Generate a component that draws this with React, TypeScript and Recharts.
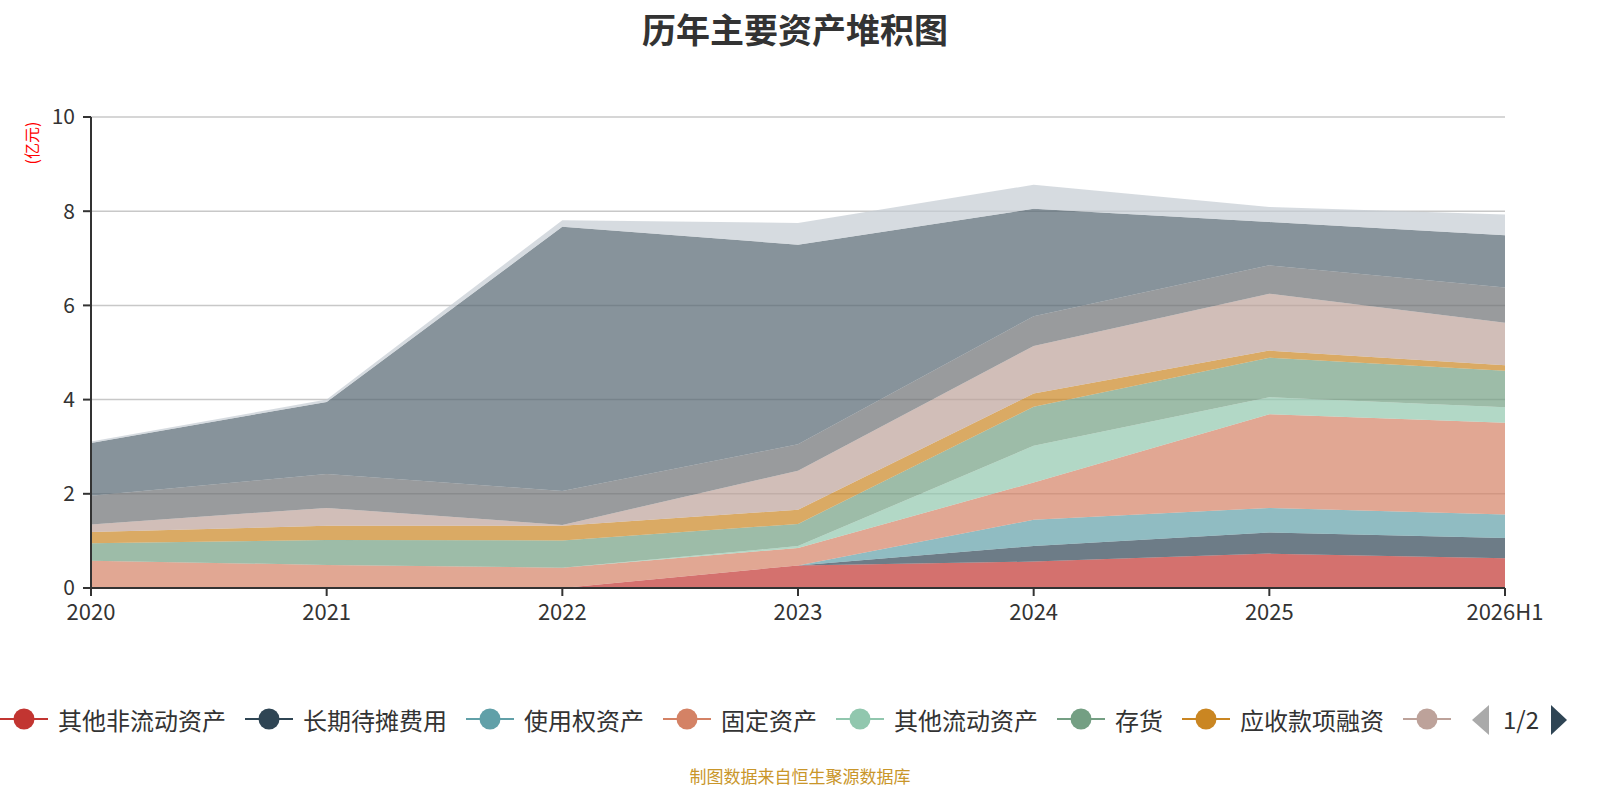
import React from "react";
import { Area, AreaChart, CartesianGrid, XAxis, YAxis } from "recharts";

// 年份
const years = ["2020", "2021", "2022", "2023", "2024", "2025", "2026H1"];

// 各项资产（亿元），自下而上堆叠
const otherNonCurrent = [0, 0, 0, 0.48, 0.56, 0.73, 0.63];
const longPrepaid = [0, 0, 0, 0, 0.33, 0.45, 0.43];
const rightOfUse = [0, 0, 0, 0, 0.56, 0.52, 0.5];
const fixedAssets = [0.58, 0.49, 0.43, 0.37, 0.79, 1.99, 1.95];
const otherCurrent = [0, 0, 0, 0.04, 0.78, 0.36, 0.33];
const inventory = [0.37, 0.53, 0.58, 0.47, 0.83, 0.84, 0.77];
const receivableFinancing = [0.24, 0.3, 0.31, 0.3, 0.28, 0.15, 0.12];
const receivables = [0.16, 0.38, 0.02, 0.83, 1.01, 1.21, 0.9];
const notesReceivable = [0.61, 0.72, 0.72, 0.56, 0.63, 0.6, 0.75];
const tradingAssets = [1.12, 1.53, 5.61, 4.24, 2.28, 0.92, 1.11];
const cash = [0.03, 0.05, 0.14, 0.46, 0.51, 0.32, 0.44];

const yTicks = [0, 2, 4, 6, 8, 10];

const series = [
  { key: "其他非流动资产", values: otherNonCurrent, color: "#c23531" },
  { key: "长期待摊费用", values: longPrepaid, color: "#2f4554" },
  { key: "使用权资产", values: rightOfUse, color: "#61a0a8" },
  { key: "固定资产", values: fixedAssets, color: "#d48265" },
  { key: "其他流动资产", values: otherCurrent, color: "#91c7ae" },
  { key: "存货", values: inventory, color: "#749f83" },
  { key: "应收款项融资", values: receivableFinancing, color: "#ca8622" },
  { key: "应收账款", values: receivables, color: "#bda29a" },
  { key: "应收票据", values: notesReceivable, color: "#6e7074" },
  { key: "交易性金融资产", values: tradingAssets, color: "#546570" },
  { key: "货币资金", values: cash, color: "#c4ccd3" },
];

const data = years.map((year, i) => {
  const row: Record<string, string | number> = { year };
  series.forEach((s) => {
    row[s.key] = s.values[i];
  });
  return row;
});

const FONT = '"Noto Sans CJK SC", "Noto Sans", sans-serif';
const xTickStyle = { fill: "#333", fontSize: 22, fontFamily: FONT };
const yTickStyle = { fill: "#333", fontSize: 21, fontFamily: FONT };

function LegendBar() {
  // 第一页：前 7 项完整显示，第 8 项只露出图标（文字被分页截掉）
  const visible = series.slice(0, 8);
  return (
    <div
      style={{
        position: "absolute",
        left: 0,
        top: 699,
        width: 1462,
        height: 40,
        overflow: "hidden",
        display: "flex",
        alignItems: "center",
        whiteSpace: "nowrap",
        fontFamily: FONT,
        fontSize: 24,
        color: "#333",
      }}
    >
      {visible.map((s, i) => (
        <div key={s.key} style={{ display: "flex", alignItems: "center", marginRight: 19, flexShrink: 0 }}>
          <svg width={48} height={28}>
            <line x1={0} x2={48} y1={14} y2={14} stroke={s.color} strokeWidth={2} />
            <circle cx={24} cy={14} r={10.5} fill={s.color} />
          </svg>
          {i < 7 && <span style={{ marginLeft: 10 }}>{s.key}</span>}
        </div>
      ))}
    </div>
  );
}

function Pager() {
  return (
    <svg style={{ position: "absolute", left: 1466, top: 702 }} width={110} height={36}>
      <polygon points="6,18 23,3 23,33" fill="#aaa" />
      <text x={55} y={27} textAnchor="middle" fontSize={24} fontFamily={FONT} fill="#333">
        1/2
      </text>
      <polygon points="101,18 85,3 85,33" fill="#2f4554" />
    </svg>
  );
}

export default function App() {
  return (
    <div style={{ position: "absolute", left: 0, top: 0, width: 1600, height: 800, background: "#fff" }}>
      <div
        style={{
          position: "absolute",
          left: 0,
          top: 4,
          width: 1590,
          textAlign: "center",
          fontFamily: FONT,
          fontSize: 34,
          fontWeight: "bold",
          color: "#333",
        }}
      >
        历年主要资产堆积图
      </div>
      <div
        style={{
          position: "absolute",
          left: 31,
          top: 143,
          transform: "translate(-50%, -50%) rotate(-90deg)",
          fontFamily: FONT,
          fontSize: 16,
          color: "#ff0000",
          whiteSpace: "nowrap",
        }}
      >
        (亿元)
      </div>

      <div style={{ position: "absolute", left: 0, top: 0 }}>
        <AreaChart width={1600} height={650} data={data} margin={{ top: 117, right: 95, left: 31, bottom: 32 }}>
          <CartesianGrid vertical={false} stroke="#c8c8c8" strokeWidth={1.5} />
          <XAxis
            dataKey="year"
            tick={xTickStyle}
            tickSize={8}
            tickMargin={8}
            height={30}
            interval={0}
            axisLine={{ stroke: "#333", strokeWidth: 2 }}
            tickLine={{ stroke: "#333", strokeWidth: 2 }}
          />
          <YAxis
            domain={[0, 10]}
            ticks={yTicks}
            width={60}
            tick={yTickStyle}
            tickSize={8}
            tickMargin={8}
            axisLine={{ stroke: "#333", strokeWidth: 2 }}
            tickLine={{ stroke: "#333", strokeWidth: 2 }}
          />
          {series.map((s) => (
            <Area
              key={s.key}
              type="linear"
              dataKey={s.key}
              stackId="assets"
              stroke="none"
              fill={s.color}
              fillOpacity={0.7}
              dot={false}
              activeDot={false}
              isAnimationActive={false}
            />
          ))}
        </AreaChart>
      </div>

      <LegendBar />
      <Pager />

      <div
        style={{
          position: "absolute",
          left: 0,
          top: 763,
          width: 1600,
          textAlign: "center",
          fontFamily: FONT,
          fontSize: 17,
          color: "#c9962a",
        }}
      >
        制图数据来自恒生聚源数据库
      </div>
    </div>
  );
}
